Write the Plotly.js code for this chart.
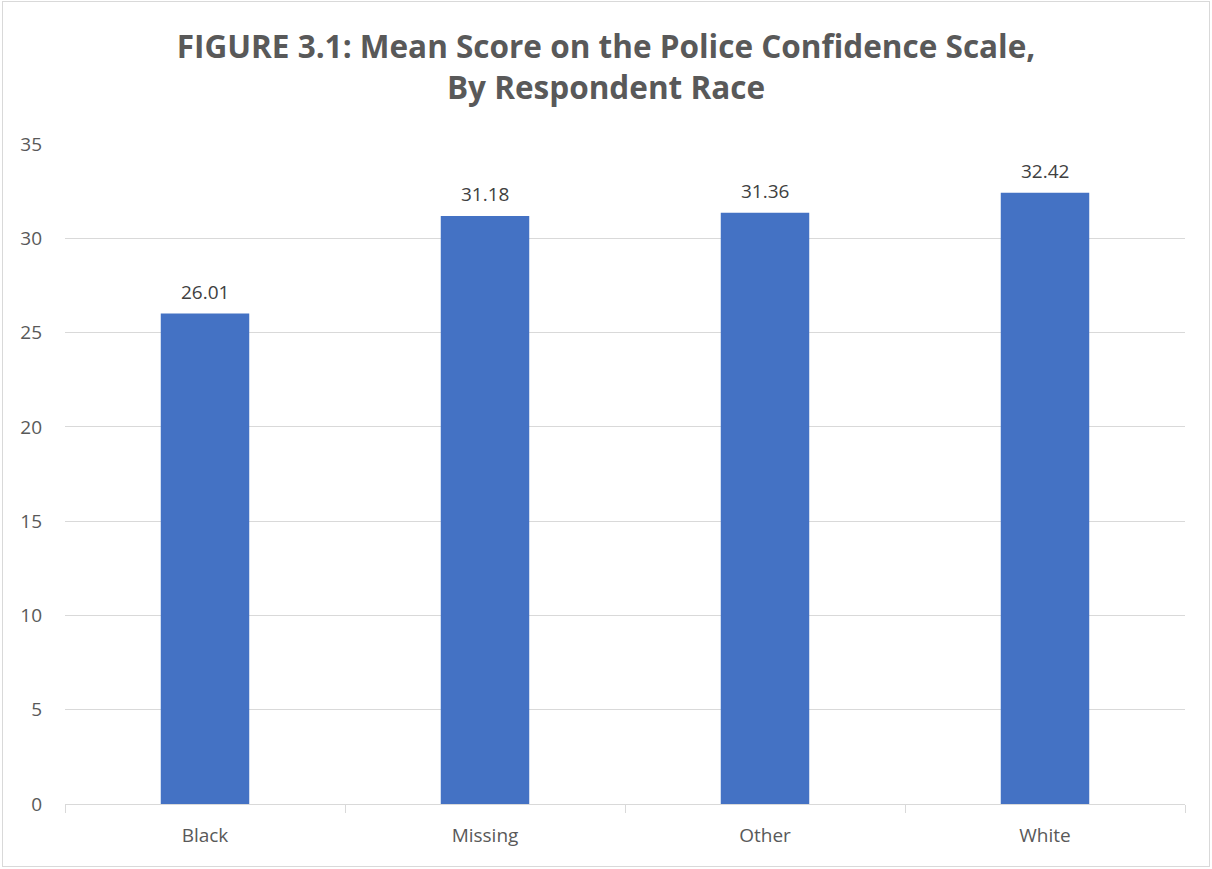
<!DOCTYPE html>
<html>
<head>
<meta charset="utf-8">
<script src="https://cdn.plot.ly/plotly-3.0.1.min.js"></script>
<style>
html,body{margin:0;padding:0;background:#fff;}
#wrap{position:relative;width:1212px;height:869px;}
#chart{position:absolute;left:0;top:0;width:1212px;height:869px;}
#frame{position:absolute;left:2px;top:1px;width:1206px;height:864px;border:1px solid #d9d9d9;pointer-events:none;}
</style>
</head>
<body>
<div id="wrap"><div id="chart"></div><div id="frame"></div></div>
<script>
const categories = ["Black", "Missing", "Other", "White"];
const meanScores = [26.01, 31.18, 31.36, 32.42];
const yTicks = [0, 5, 10, 15, 20, 25, 30, 35];
const titleText = "FIGURE 3.1: Mean Score on the Police Confidence Scale,<br>By Respondent Race";

const FONT = "Open Sans, Liberation Sans, sans-serif";

const trace = {
  type: "bar",
  x: categories,
  y: meanScores,
  width: 0.316,
  marker: {color: "#4472C4"},
  hoverinfo: "x+y"
};

const labels = categories.map((c, i) => ({
  x: c, y: meanScores[i], xref: "x", yref: "y",
  text: meanScores[i].toFixed(2),
  showarrow: false, yanchor: "bottom", yshift: 7,
  font: {family: FONT, size: 19, color: "#404040"}
}));

const layout = {
  width: 1212, height: 869,
  margin: {l: 65, r: 27, t: 144, b: 65},
  paper_bgcolor: "#fff", plot_bgcolor: "#fff",
  showlegend: false,
  annotations: labels,
  title: {
    text: titleText,
    x: 0.5, xanchor: "center", y: 1 - 58/869, yanchor: "top",
    font: {family: FONT, size: 31.5, color: "#595959", weight: "bold"}
  },
  xaxis: {
    type: "category",
    tickson: "boundaries",
    ticks: "outside", ticklen: 8, tickcolor: "#d9d9d9", tickwidth: 1,
    showline: true, linecolor: "#d9d9d9", linewidth: 1,
    showgrid: false,
    ticklabelstandoff: 14,
    tickfont: {family: FONT, size: 19, color: "#595959"},
    range: [-0.5, 3.5]
  },
  yaxis: {
    range: [0, 35],
    tickvals: yTicks,
    ticktext: yTicks.map(String),
    showgrid: true, gridcolor: "#d9d9d9", gridwidth: 1,
    zeroline: false, showline: false, ticks: "",
    ticklabelstandoff: 22,
    tickfont: {family: FONT, size: 19, color: "#595959"}
  },
  font: {family: FONT}
};

Plotly.newPlot("chart", [trace], layout, {displayModeBar: false});
</script>
</body>
</html>
